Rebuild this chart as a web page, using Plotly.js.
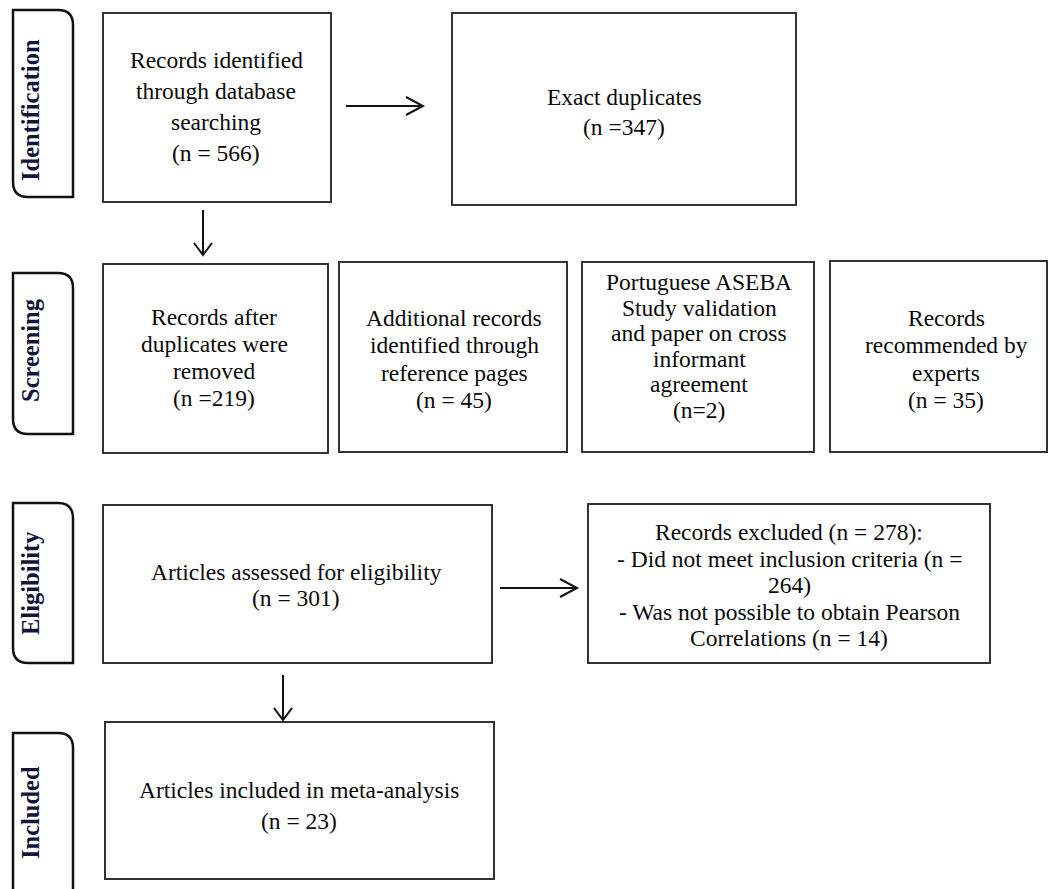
<!DOCTYPE html>
<html>
<head>
<meta charset="utf-8">
<script src="https://cdn.plot.ly/plotly-3.0.1.min.js"></script>
<style>html,body{margin:0;padding:0;background:#fff;}#chart{width:1054px;height:889px;}</style>
</head>
<body>
<div id="chart"></div>
<script>
// ---- content (texts and counts) ----
const stageLabels = ["Identification", "Screening", "Eligibility", "Included"];
const boxTexts = [
  ["Records identified", "through database", "searching", "(n = 566)"],
  ["Exact duplicates", "(n =347)"],
  ["Records after", "duplicates were", "removed", "(n =219)"],
  ["Additional records", "identified through", "reference pages", "(n = 45)"],
  ["Portuguese ASEBA", "Study validation", "and paper on cross", "informant", "agreement", "(n=2)"],
  ["Records", "recommended by", "experts", "(n = 35)"],
  ["Articles assessed for eligibility", "(n = 301)"],
  ["Records excluded (n = 278):", "- Did not meet inclusion criteria (n =", "264)", "- Was not possible to obtain Pearson", "Correlations (n = 14)"],
  ["Articles included in meta-analysis", "(n = 23)"]
];

// ---- layout geometry (pixel space) ----
const tabGeom = [
  {x0: 13, x1: 73, y0: 10, y1: 197, ty: 110},
  {x0: 13, x1: 73, y0: 273, y1: 434, ty: 350},
  {x0: 13, x1: 73, y0: 503, y1: 663, ty: 583},
  {x0: 13, x1: 73, y0: 733, y1: 905, ty: 813}
];
const boxGeom = [
  {x0: 103, x1: 331, y0: 13, y1: 202, tx: 216, ty: 60, dy: 31},
  {x0: 452, x1: 796, y0: 13, y1: 205, tx: 624, ty: 97, dy: 30},
  {x0: 103, x1: 328, y0: 264, y1: 453, tx: 214, ty: 317, dy: 27},
  {x0: 339, x1: 567, y0: 262, y1: 452, tx: 454, ty: 318, dy: 27.3},
  {x0: 582, x1: 814, y0: 262, y1: 452, tx: 699, ty: 282, dy: 25.6},
  {x0: 830, x1: 1047, y0: 261, y1: 452, tx: 946, ty: 318, dy: 27.3},
  {x0: 103, x1: 492, y0: 505, y1: 663, tx: 296, ty: 572, dy: 25.5},
  {x0: 588, x1: 990, y0: 504, y1: 663, tx: 789, ty: 532, dy: 26.5},
  {x0: 105, x1: 494, y0: 722, y1: 879, tx: 299, ty: 790, dy: 31}
];
const arrowGeom = [
  {dir: "h", a: 346, b: 423, c: 106},
  {dir: "v", a: 210, b: 255, c: 203},
  {dir: "h", a: 500, b: 577, c: 588},
  {dir: "v", a: 675, b: 720, c: 283}
];

const shapes = [];
const annotations = [];
const textFont = {family: "Liberation Serif, Times New Roman, serif", size: 23.5, color: "#0a0a0a"};

tabGeom.forEach((t, i) => {
  const r = 15;
  shapes.push({
    type: "path", xref: "x", yref: "y",
    path: `M ${t.x0},${t.y0} L ${t.x1 - r},${t.y0} Q ${t.x1},${t.y0} ${t.x1},${t.y0 + r} L ${t.x1},${t.y1} L ${t.x0 + r},${t.y1} Q ${t.x0},${t.y1} ${t.x0},${t.y1 - r} Z`,
    line: {color: "#111", width: 2.5}, fillcolor: "rgba(0,0,0,0)"
  });
  annotations.push({
    x: 30, y: t.ty, xref: "x", yref: "y", text: "<b>" + stageLabels[i] + "</b>",
    showarrow: false, textangle: -90, xanchor: "center", yanchor: "middle",
    font: {family: "Liberation Serif, Times New Roman, serif", size: 24.5, color: "#14143a"}
  });
});

boxGeom.forEach((g, i) => {
  shapes.push({
    type: "rect", xref: "x", yref: "y", x0: g.x0, x1: g.x1, y0: g.y0, y1: g.y1,
    line: {color: "#333", width: 2}, fillcolor: "rgba(0,0,0,0)"
  });
  boxTexts[i].forEach((line, k) => {
    annotations.push({
      x: g.tx, y: g.ty + k * g.dy, xref: "x", yref: "y", text: line,
      showarrow: false, xanchor: "center", yanchor: "middle", font: textFont
    });
  });
});

arrowGeom.forEach(a => {
  let p;
  if (a.dir === "h") {
    p = `M ${a.a},${a.c} L ${a.b},${a.c} M ${a.b - 17},${a.c - 9} L ${a.b},${a.c} L ${a.b - 17},${a.c + 9}`;
  } else {
    p = `M ${a.c},${a.a} L ${a.c},${a.b} M ${a.c - 9},${a.b - 12} L ${a.c},${a.b} L ${a.c + 9},${a.b - 12}`;
  }
  shapes.push({type: "path", xref: "x", yref: "y", path: p, line: {color: "#111", width: 2}});
});

const layout = {
  width: 1054, height: 889,
  margin: {l: 0, r: 0, t: 0, b: 0},
  paper_bgcolor: "#fff", plot_bgcolor: "#fff",
  xaxis: {range: [0, 1054], visible: false, fixedrange: true},
  yaxis: {range: [889, 0], visible: false, fixedrange: true},
  showlegend: false,
  shapes: shapes,
  annotations: annotations
};

Plotly.newPlot("chart", [{x: [], y: [], type: "scatter", mode: "markers", hoverinfo: "skip"}], layout, {staticPlot: true, displayModeBar: false});
</script>
</body>
</html>
